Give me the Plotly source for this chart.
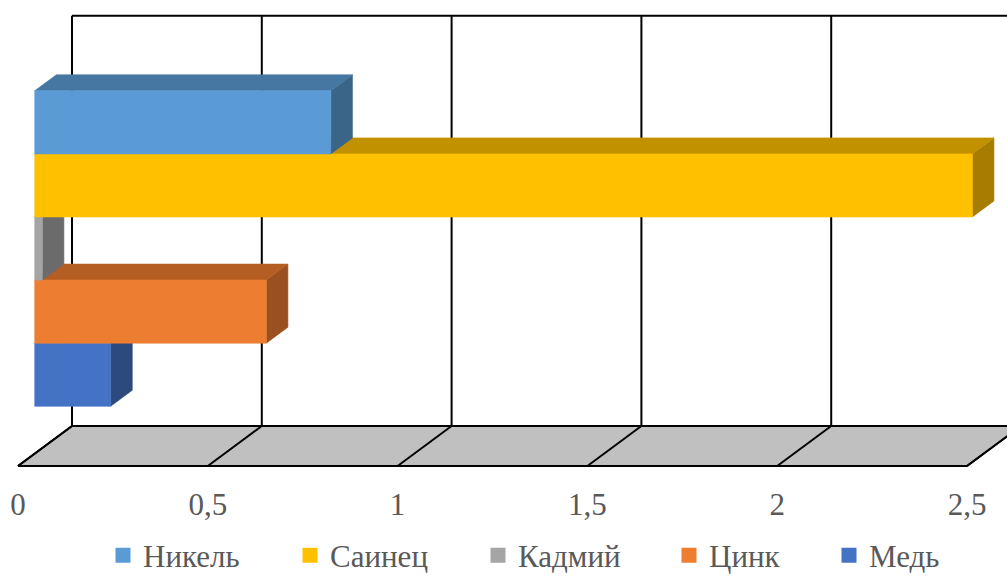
import plotly.graph_objects as go

# Data
metals = ["Никель", "Саинец", "Кадмий", "Цинк", "Медь"]
values = [0.78, 2.47, 0.02, 0.61, 0.2]
x_ticks = [0, 0.5, 1, 1.5, 2, 2.5]
x_tick_text = ["0", "0,5", "1", "1,5", "2", "2,5"]

# Styling
front_colors = ["#5B9BD5", "#FFC000", "#A5A5A5", "#ED7D31", "#4472C4"]
top_colors = ["#4677A3", "#C29100", "#7F7F7F", "#B55E24", "#34578F"]
side_colors = ["#3A6589", "#A67D00", "#6B6B6B", "#9A5020", "#2C4A7E"]
legend_centers_px = [125, 312, 500, 691, 851]
SERIF = "Liberation Serif"

W, H = 1007, 576
M_B = 100
PX_PER_VAL = 379.6      # horizontal scale, px per value unit
PX_PER_SLOT = 63.1      # vertical scale, px per bar slot
X0_PX = 18              # where value 0 sits on the front edge of the floor
FLOOR_DX_PX, FLOOR_DY_PX = 54, 40   # full depth offset of the oblique view

DX = FLOOR_DX_PX / PX_PER_VAL
DY = FLOOR_DY_PX / PX_PER_SLOT
GAP = 0.75               # empty slot space below and above the bar cluster
WALL_H = len(metals) + 2 * GAP
D0, D1 = 0.31, 0.71       # depth range occupied by the bars
V_MAX = x_ticks[-1]
LINE = dict(color="#000000", width=2)


def proj(v, h, d):
    return v + d * DX, h + d * DY


def poly(points, fill, line=None):
    xs, ys = zip(*[proj(*p) for p in points])
    xs = list(xs) + [xs[0]]
    ys = list(ys) + [ys[0]]
    return go.Scatter(
        x=xs, y=ys, mode="lines", fill="toself", fillcolor=fill,
        line=line if line else dict(color=fill, width=0.6),
        hoverinfo="skip", showlegend=False,
    )


def seg(p, q):
    (x1, y1), (x2, y2) = proj(*p), proj(*q)
    return go.Scatter(x=[x1, x2], y=[y1, y2], mode="lines", line=LINE,
                      hoverinfo="skip", showlegend=False)


fig = go.Figure()

# Back wall: value gridlines and top edge
for t in x_ticks:
    fig.add_trace(seg((t, 0, 1), (t, WALL_H, 1)))
fig.add_trace(seg((0, WALL_H, 1), (V_MAX + 0.3, WALL_H, 1)))

# Floor
fig.add_trace(poly([(0, 0, 0), (V_MAX, 0, 0), (V_MAX, 0, 1), (0, 0, 1)],
                   "#C0C0C0", LINE))
for t in x_ticks:
    fig.add_trace(seg((t, 0, 0), (t, 0, 1)))

# Bars, drawn bottom to top so upper bars hide the top faces below them
n = len(metals)
for i in reversed(range(n)):
    v = values[i]
    hb = GAP + (n - 1 - i)
    ht = hb + 1
    fig.add_trace(poly([(v, hb, D0), (v, ht, D0), (v, ht, D1), (v, hb, D1)],
                       side_colors[i]))
    fig.add_trace(poly([(0, ht, D0), (v, ht, D0), (v, ht, D1), (0, ht, D1)],
                       top_colors[i]))
    fig.add_trace(poly([(0, hb, D0), (v, hb, D0), (v, ht, D0), (0, ht, D0)],
                       front_colors[i]))

# Legend entries, one legend per series
plot_h = H - M_B
legend_layouts = {}
for i, name in enumerate(metals):
    key = "legend" if i == 0 else f"legend{i + 1}"
    fig.add_trace(go.Scatter(
        x=[None], y=[None], mode="markers", name=name,
        marker=dict(symbol="square", size=15, color=front_colors[i]),
        legend=key, showlegend=True,
    ))
    legend_layouts[key] = dict(
        x=(legend_centers_px[i] - 22) / W, xanchor="left", xref="container",
        y=(H - 555.5) / H, yanchor="middle", yref="container",
        orientation="h", bgcolor="rgba(0,0,0,0)",
        font=dict(family=SERIF, size=31, color="#595959"),
        itemclick=False, itemdoubleclick=False,
    )

fig.update_layout(
    width=W, height=H,
    margin=dict(l=0, r=0, t=0, b=M_B, autoexpand=False),
    paper_bgcolor="white", plot_bgcolor="white",
    hovermode=False,
    xaxis=dict(
        range=[-X0_PX / PX_PER_VAL, (W - X0_PX) / PX_PER_VAL],
        tickvals=x_ticks, ticktext=x_tick_text,
        showgrid=False, zeroline=False, showline=False, ticks="",
        ticklabelstandoff=7,
        tickfont=dict(family=SERIF, size=31, color="#595959"),
        fixedrange=True,
    ),
    yaxis=dict(
        range=[-10 / PX_PER_SLOT, (plot_h - 10) / PX_PER_SLOT],
        visible=False, fixedrange=True,
    ),
    **legend_layouts,
)

fig.write_html("out.html")
